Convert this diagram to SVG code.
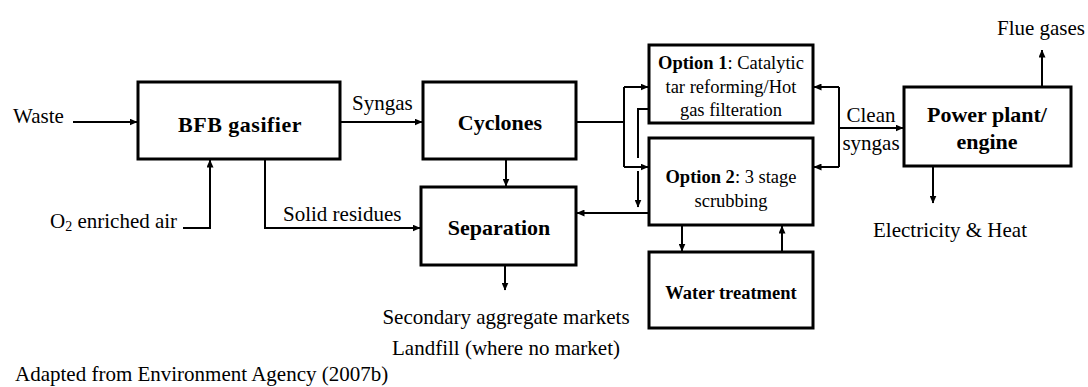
<svg xmlns="http://www.w3.org/2000/svg" width="1088" height="387" viewBox="0 0 1088 387">
<defs>
<marker id="ah" markerUnits="userSpaceOnUse" markerWidth="8" markerHeight="7" refX="7.5" refY="3.5" orient="auto">
<path d="M0,0 L8,3.5 L0,7 z" fill="#000"/>
</marker>
<style>
.box{fill:#fff;stroke:#000;stroke-width:3}
.t{font-family:"Liberation Serif","Times New Roman",serif;font-size:21px;fill:#000}
.b{font-family:"Liberation Serif","Times New Roman",serif;font-size:22px;font-weight:bold;fill:#000}
.o{font-family:"Liberation Serif","Times New Roman",serif;font-size:18.5px;fill:#000}
.c{fill:none;stroke:#000;stroke-width:2}
.a{fill:none;stroke:#000;stroke-width:2;marker-end:url(#ah)}
</style>
</defs>
<rect width="1088" height="387" fill="#fff"/>
<g id="connectors">
<path class="a" d="M73,122 H137"/>
<path class="a" d="M340,122 H422"/>
<path class="a" d="M183,228 H210 V160"/>
<path class="a" d="M265,159 V228 H420"/>
<path class="a" d="M506,159 V186"/>
<path class="a" d="M505,265 V290"/>
<path class="c" d="M576,122 H624"/>
<path class="c" d="M624,87 V167"/>
<path class="a" d="M624,87 H648"/>
<path class="a" d="M624,167 H648"/>
<path class="c" d="M649,109 H638 V158"/>
<path class="a" d="M638,171 V207"/>
<path class="a" d="M649,213 H577"/>
<path class="a" d="M682,225 V251"/>
<path class="a" d="M782,252 V226"/>
<path class="c" d="M839,87 V167"/>
<path class="a" d="M839,87 H814"/>
<path class="a" d="M839,167 H814"/>
<path class="a" d="M839,128 H903"/>
<path class="a" d="M1042,87 V50"/>
<path class="a" d="M933,166 V203"/>
</g>
<g id="bfb"><rect class="box" x="138" y="82" width="202" height="77"/><text class="b" x="240" y="132" text-anchor="middle" letter-spacing="0.5">BFB gasifier</text></g>
<g id="cyclones"><rect class="box" x="423" y="82" width="153" height="77"/><text class="b" x="500" y="130" text-anchor="middle">Cyclones</text></g>
<g id="separation"><rect class="box" x="421" y="187" width="155" height="78"/><text class="b" x="499" y="235" text-anchor="middle">Separation</text></g>
<g id="option1"><rect class="box" x="649" y="45" width="164" height="78"/>
<text class="o" x="731" y="69" text-anchor="middle"><tspan font-weight="bold">Option 1</tspan>: Catalytic</text>
<text class="o" x="731" y="93" text-anchor="middle">tar reforming/Hot</text>
<text class="o" x="731" y="116" text-anchor="middle">gas filteration</text></g>
<g id="option2"><rect class="box" x="649" y="138" width="164" height="87"/>
<text class="o" x="731" y="183" text-anchor="middle"><tspan font-weight="bold">Option 2</tspan>: 3 stage</text>
<text class="o" x="731" y="207" text-anchor="middle">scrubbing</text></g>
<g id="water"><rect class="box" x="649" y="252" width="164" height="76"/><text class="o" x="731" y="299" text-anchor="middle" font-weight="bold">Water treatment</text></g>
<g id="power"><rect class="box" x="904" y="87" width="167" height="79"/>
<text class="b" x="987" y="122" text-anchor="middle" font-size="20">Power plant/</text>
<text class="b" x="987" y="149" text-anchor="middle" font-size="20">engine</text></g>
<g id="labels">
<text class="t" x="13" y="123">Waste</text>
<text class="t" x="352" y="110">Syngas</text>
<text class="t" x="50" y="228">O<tspan font-size="14" dy="3">2</tspan><tspan dy="-3"> enriched air</tspan></text>
<text class="t" x="283" y="221">Solid residues</text>
<text class="t" x="871" y="122" text-anchor="middle" font-size="20">Clean</text>
<text class="t" x="871" y="150" text-anchor="middle" font-size="20">syngas</text>
<text class="t" x="1041" y="35" text-anchor="middle">Flue gases</text>
<text class="t" x="950" y="237" text-anchor="middle">Electricity &amp; Heat</text>
<text class="t" x="506" y="324" text-anchor="middle">Secondary aggregate markets</text>
<text class="t" x="506" y="355" text-anchor="middle">Landfill (where no market)</text>
<text class="t" x="15" y="381" font-size="20.5">Adapted from Environment Agency (2007b)</text>
</g>
</svg>
